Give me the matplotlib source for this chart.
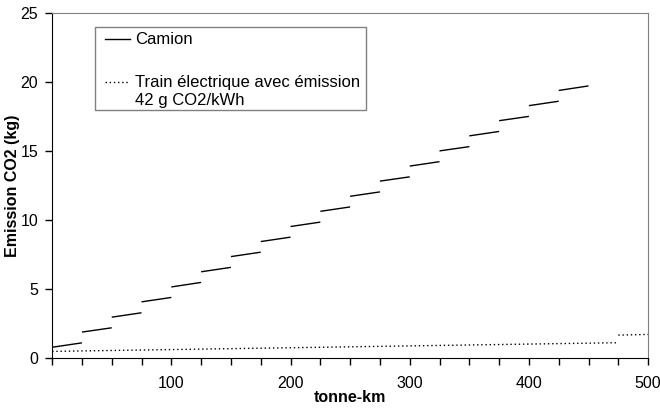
import numpy as np
import matplotlib.pyplot as plt
from matplotlib.patches import Rectangle

plt.rcParams['font.family'] = ['Liberation Sans', 'DejaVu Sans']

# Camion: one segment per 25 tonne-km (segment edges)
camion_x = [0, 25, 50, 75, 100, 125, 150, 175, 200, 225, 250, 275,
            300, 325, 350, 375, 400, 425, 450]
camion_start = [0.78, 1.88, 2.96, 4.07, 5.15, 6.25, 7.35, 8.44, 9.53, 10.63,
                11.72, 12.82, 13.91, 15.01, 16.10, 17.20, 18.29, 19.39]
camion_end = [1.10, 2.19, 3.28, 4.39, 5.48, 6.57, 7.67, 8.76, 9.85, 10.95,
              12.04, 13.13, 14.23, 15.32, 16.42, 17.51, 18.61, 19.72]

# Train electrique (42 g CO2/kWh)
train_x = [0, 475, 500]
train_start = [0.48, 1.66]
train_end = [1.11, 1.71]

fig, ax = plt.subplots(figsize=(6.6, 4.08), dpi=100)
fig.subplots_adjust(left=0.079, right=0.982, bottom=0.1225, top=0.968)

# build NaN-separated segments
cx, cy = [], []
for i in range(len(camion_start)):
    cx += [camion_x[i], camion_x[i + 1], np.nan]
    cy += [camion_start[i], camion_end[i], np.nan]
ax.plot(cx, cy, color='black', lw=1.0, solid_capstyle='butt', clip_on=False)

tx, ty = [], []
for i in range(len(train_start)):
    tx += [train_x[i], train_x[i + 1], np.nan]
    ty += [train_start[i], train_end[i], np.nan]
ax.plot(tx, ty, color='black', lw=1.0, linestyle=(0, (1, 2)), clip_on=False)

ax.set_xlim(0, 500)
ax.set_ylim(0, 25)
ax.set_xticks([0, 100, 200, 300, 400, 500])
ax.set_xticklabels(['', '100', '200', '300', '400', '500'])
ax.set_xticks(camion_x + [475, 500], minor=True)
ax.set_yticks([0, 5, 10, 15, 20, 25])
ax.tick_params(axis='both', direction='out', length=5, width=1,
               labelsize=11.5, color='black')
ax.tick_params(axis='x', which='minor', direction='out', length=5, width=1)
ax.tick_params(axis='x', pad=8)
ax.tick_params(axis='y', pad=5)

for s in ['top', 'right']:
    ax.spines[s].set_color('#808080')
for s in ['left', 'bottom']:
    ax.spines[s].set_color('black')

ax.set_xlabel('tonne-km', fontsize=11.5, fontweight='bold')
ax.xaxis.set_label_coords(0.5, -0.093)
ax.set_ylabel('Emission CO2 (kg)', fontsize=11.5, fontweight='bold')
ax.yaxis.set_label_coords(-0.054, 0.5)

# legend box drawn by hand so the dotted key sits on the first text line
tr = ax.transAxes
ax.add_patch(Rectangle((0.0719, 0.7188), 0.4549, 0.2406, transform=tr,
                       facecolor='white', edgecolor='#808080', lw=1.0,
                       zorder=5, clip_on=False))
ax.plot([0.0886, 0.1304], [0.9246, 0.9246], transform=tr, color='black',
        lw=1.0, zorder=6, clip_on=False)
ax.text(0.1388, 0.9246, 'Camion', transform=tr, fontsize=12,
        va='center', ha='left', zorder=6)
ax.plot([0.0886, 0.1304], [0.80, 0.80], transform=tr, color='black',
        lw=1.0, linestyle=(0, (1, 2)), zorder=6, clip_on=False)
ax.text(0.1388, 0.80, 'Train électrique avec émission', transform=tr,
        fontsize=12, va='center', ha='left', zorder=6)
ax.text(0.1388, 0.7478, '42 g CO2/kWh', transform=tr, fontsize=12,
        va='center', ha='left', zorder=6)

fig.savefig('out.png', dpi=100)
